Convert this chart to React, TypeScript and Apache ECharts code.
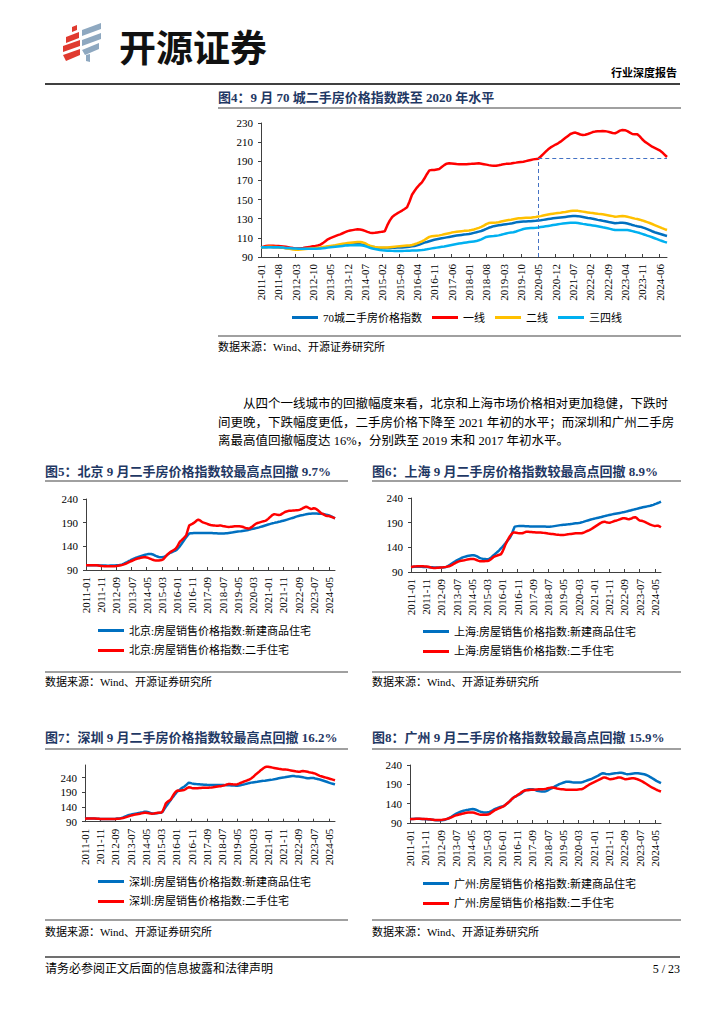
import { useEffect, useRef } from "react";
import * as echarts from "echarts";

const SERIF = "'Liberation Serif', 'Noto Sans CJK SC', serif";

// Monthly categories 2011-01 .. 2024-09
const MONTHS: string[] = [];
for (let y = 2011; y <= 2024; y++) {
  for (let m = 1; m <= 12; m++) {
    if (y === 2024 && m > 9) break;
    MONTHS.push(`${y}-${m < 10 ? "0" + m : m}`);
  }
}

// ---- Fig 4: 70-city second-hand price index (2011-01 = 100) ----
const city70 = [
  100, 100.2, 100.3, 100.4, 100.4, 100.3, 100.2, 100.1, 100, 99.7, 99.4, 99.1,
  98.9, 98.8, 98.7, 98.7, 98.6, 98.6, 98.6, 98.6, 98.7, 98.7, 98.9, 99.2,
  99.5, 99.9, 100.3, 100.7, 101, 101.3, 101.6, 101.9, 102.2, 102.5, 102.7, 102.9,
  103, 103.1, 103.2, 103.2, 103.2, 102.9, 102.3, 101.7, 101.1, 100.6, 100.2, 99.8,
  99.5, 99.4, 99.4, 99.4, 99.5, 99.6, 99.7, 99.8, 99.8, 100, 100.2, 100.5,
  100.8, 101.1, 101.5, 102.2, 103, 104, 105, 105.7, 106.5, 107.3, 108, 108.5,
  109, 109.5, 110, 110.5, 111, 111.5, 112, 112.4, 112.8, 113.1, 113.4, 113.7,
  114.1, 114.6, 115.2, 115.8, 116.5, 117.2, 118.2, 119.3, 120.5, 121.3, 122.2, 122.7,
  123.1, 123.5, 123.9, 124.3, 124.6, 124.9, 125.6, 126.2, 126.5, 126.8, 127, 127.2,
  127.3, 127.4, 127.6, 127.8, 128.1, 128.4, 128.8, 129.2, 129.6, 130, 130.4, 130.7,
  131, 131.3, 131.6, 131.9, 132.2, 132.5, 132.8, 132.9, 132.7, 132.3, 131.8, 131.3,
  130.8, 130.4, 130, 129.4, 128.8, 128.3, 127.8, 127.4, 126.8, 126.2, 125.7, 125.2,
  125.4, 125.7, 125.9, 125.6, 125, 124.3, 123.5, 122.8, 122.2, 121.7, 121, 120.1,
  119.1, 118, 116.9, 115.9, 115.1, 114.3, 113.5, 112.7, 112,
];
const tier1 = [
  100, 100.8, 101.5, 101.8, 101.8, 101.7, 101.6, 101.5, 101.3, 101, 100.6, 100.2,
  99.8, 99.3, 99, 99, 99.2, 99.5, 99.9, 100.3, 100.7, 101.2, 101.5, 102,
  103, 104.5, 106.5, 108.5, 109.8, 110.8, 111.8, 112.8, 113.7, 114.8, 115.9, 117,
  117.6, 118.1, 118.6, 119, 118.8, 118.2, 117.3, 116.3, 115.4, 115.2, 115.4, 115.7,
  116, 116.5, 116.8, 123, 128, 131.8, 133.8, 135.5, 137, 138.5, 140.2, 142,
  148, 155, 159, 162.5, 165.5, 168, 172, 176.5, 180.5, 180.8, 181, 181.5,
  182, 184, 186, 187.5, 188, 187.8, 187.5, 187.2, 187, 186.8, 187, 187,
  187.2, 187.3, 187.5, 187.7, 187.9, 187.5, 187, 186.5, 186, 185.6, 185.3, 185.4,
  185.8, 186.3, 187, 187.3, 187.5, 187.7, 188.3, 188.6, 189, 189.3, 189.6, 190.2,
  190.8, 191.4, 192, 192.3, 192.7, 195, 197.5, 200, 202.5, 204.5, 206, 207.5,
  208.8, 210.5, 212.5, 214.5, 216.5, 218.5, 219.5, 220, 219, 218, 217.5, 217.8,
  218.5, 219.5, 220.5, 221, 221.3, 221.5, 221.6, 221.5, 221, 220.3, 219.6, 219.2,
  220.5, 222, 222.7, 222.5, 221.5, 220, 218.5, 218.3, 218.3, 216, 213, 210.5,
  208.8, 207, 205.2, 204, 202.8, 201.5, 199.5, 197, 194.5,
];
const tier2 = [
  100, 100.3, 100.5, 100.6, 100.6, 100.5, 100.4, 100.2, 100, 99.6, 99.2, 98.8,
  98.3, 97.9, 97.7, 97.7, 97.8, 98, 98.3, 98.6, 98.9, 99.2, 99.4, 99.7,
  100, 100.4, 100.8, 101.2, 101.6, 101.9, 102.3, 102.8, 103.3, 103.8, 104.2, 104.6,
  104.9, 105.2, 105.4, 105.6, 105.7, 105.3, 104.4, 103, 101.9, 101, 100.4, 100.1,
  99.9, 99.8, 99.8, 99.9, 100.2, 100.5, 100.8, 101.1, 101.3, 101.5, 101.7, 101.9,
  102.1, 102.6, 103.3, 104.2, 105.2, 106.3, 107.8, 109.4, 111, 111.6, 112, 112.3,
  112.6, 113.1, 113.7, 114.3, 114.9, 115.5, 116, 116.4, 116.7, 117, 117.3, 117.5,
  117.8, 118.2, 118.8, 119.6, 120.5, 121.5, 122.8, 124.3, 125.5, 125.8, 125.9, 126.1,
  126.4, 127, 127.6, 128.1, 128.6, 129, 129.5, 130, 130.4, 130.6, 130.8, 130.9,
  131, 131.1, 131.5, 131.8, 132.2, 132.7, 133.3, 133.9, 134.4, 134.9, 135.3, 135.6,
  136, 136.3, 136.7, 137.1, 137.6, 138, 138.4, 138.4, 138.2, 137.8, 137.4, 137,
  136.6, 136.2, 135.9, 135.5, 135.1, 134.8, 134.6, 134.2, 133.7, 133.2, 132.7, 132.1,
  132.3, 132.6, 132.8, 132.5, 132, 131.4, 130.7, 130.1, 129.7, 129, 128.2, 127.3,
  126.4, 125.5, 124.5, 123.4, 122.3, 121.2, 120.1, 119.1, 118.2,
];
const tier34 = [
  100, 100.1, 100.2, 100.3, 100.3, 100.3, 100.2, 100.1, 100, 99.8, 99.5, 99.3,
  99.1, 98.9, 98.8, 98.7, 98.7, 98.6, 98.6, 98.6, 98.6, 98.7, 98.7, 98.8,
  99, 99.2, 99.5, 99.8, 100.1, 100.4, 100.7, 101, 101.3, 101.6, 101.9, 102.1,
  102.2, 102.3, 102.3, 102.3, 102.2, 102.1, 101.5, 100.6, 99.7, 98.9, 98.3, 97.8,
  97.3, 97, 96.8, 96.6, 96.5, 96.4, 96.3, 96.3, 96.3, 96.3, 96.4, 96.5,
  96.6, 96.7, 96.8, 96.9, 97.1, 97.3, 97.6, 98, 98.5, 99, 99.4, 99.8,
  100.2, 100.6, 101, 101.5, 102, 102.5, 103, 103.5, 104, 104.4, 104.8, 105.2,
  105.6, 106, 106.3, 106.6, 107.5, 108.5, 109.8, 111, 111.5, 111.8, 112, 112.3,
  112.6, 113.2, 113.9, 114.6, 115.2, 115.5, 115.8, 116.6, 117.5, 118.4, 119.3, 119.7,
  120, 120.2, 120.4, 120.6, 120.9, 121.3, 121.7, 122.1, 122.5, 122.9, 123.4, 123.8,
  124.2, 124.6, 124.9, 125.2, 125.5, 125.7, 125.9, 125.8, 125.5, 125.1, 124.6, 124.2,
  123.8, 123.4, 123, 122.6, 122.1, 121.6, 121, 120.5, 120, 119.4, 118.8, 118.3,
  118.2, 118.2, 118.3, 118.2, 118.2, 117.7, 117, 116.3, 115.7, 115, 114.2, 113.3,
  112.3, 111.5, 110.6, 109.6, 108.6, 107.6, 106.7, 105.8, 105,
];
const tier1RefLevel = 192.7; // level of tier-1 index in 2020-05
const tier1RefMonth = "2020-05";

// ---- Fig 5: Beijing ----
const bjNew = [
  100, 100.1, 100.2, 100.2, 100.2, 100.1, 100, 99.9, 99.8, 99.7, 99.6, 99.5,
  99.4, 99.3, 99.2, 99.2, 99.3, 99.4, 99.5, 99.6, 99.8, 100, 100.4, 101,
  102, 103.5, 105.2, 106.8, 108.5, 110, 111.7, 113.2, 114.6, 116, 117, 118.2,
  119.3, 120.4, 121.4, 122.3, 123, 123.6, 124, 123.8, 122.8, 121.2, 119.8, 118.5,
  117.5, 117, 117, 117.3, 118.4, 120.5, 123, 125.5, 127, 128.4, 129.7, 131,
  133.5, 137, 141, 145.5, 150, 155, 159, 163.5, 167, 167.5, 167.8, 168,
  168, 168, 168.2, 168.3, 168.4, 168.3, 168.1, 168, 168, 168, 168, 168,
  167.8, 167.6, 167.4, 167.2, 167, 167, 167, 167.2, 167.5, 167.8, 168.2, 168.6,
  169, 169.6, 170.2, 170.7, 171.2, 171.6, 172, 172.5, 173, 173.5, 174, 174.7,
  175.5, 176.3, 177, 177.8, 178.5, 179.2, 180, 181, 182, 183, 184, 185,
  186, 187, 188, 188.8, 189.5, 190.3, 191, 191.8, 192.6, 193.4, 194.2, 195,
  196, 197, 198, 199, 200, 201, 202.2, 203.3, 204.2, 205, 205.7, 206.3,
  207, 207.6, 208.2, 208.7, 209, 209.2, 209.3, 209.3, 209.2, 209.1, 209, 208.7,
  208.2, 207.6, 207, 206.2, 205.2, 204, 202.6, 200.9, 199,
];
const bjUsed = [
  100, 100, 100, 100, 100, 100, 100, 99.8, 99.5, 99, 98.5, 98.2,
  98, 97.8, 97.8, 97.8, 97.9, 98, 98, 98, 98.3, 98.8, 99.5, 100,
  100.8, 101.8, 103, 104.5, 106, 107.5, 109, 110.5, 112, 113.2, 114.2, 115,
  115.8, 116.4, 117, 117, 116.5, 115.5, 114.2, 112.8, 111.5, 110.6, 110.2, 110,
  110.2, 110.6, 111, 113, 116.5, 120.5, 124, 126.5, 128.8, 130.8, 132.8, 135,
  139, 145, 150.5, 153, 156, 159.5, 163, 174, 184.5, 186, 187.5, 189.5,
  192, 195, 196.6, 195, 192.5, 190.5, 189.5, 188.5, 187.3, 186.2, 185.2, 184.3,
  184, 183.8, 183.7, 183.7, 183.8, 183.8, 183, 182.4, 181.8, 181.3, 181, 181.2,
  181.5, 182, 182.5, 182.6, 182.5, 182.4, 182, 181.3, 180.2, 179, 178, 177.6,
  178.5, 180.5, 183, 185.5, 188, 189.2, 190.2, 191.2, 192.2, 193, 193.8, 195.5,
  198, 201, 204, 206.5, 208, 207.5, 206.5, 206, 206.5, 208.5, 210.5, 212.5,
  213.5, 214.5, 215, 215.3, 215.5, 215.8, 216, 216.3, 216.5, 217.5, 219, 221,
  222.5, 223.5, 222.5, 220.5, 219, 219.5, 220.5, 220, 218, 215.5, 212.5, 209.5,
  208.5, 206.5, 204.5, 204, 204, 203, 201.8, 200.5, 199,
];

// ---- Fig 6: Shanghai ----
const shNew = [
  100, 100.3, 100.5, 100.6, 100.6, 100.6, 100.5, 100.4, 100.3, 100.2, 100.1, 100,
  99.8, 99.6, 99.4, 99.2, 99.1, 99, 99, 99, 99.1, 99.3, 99.6, 100.2,
  101.5, 103.6, 105.5, 107.5, 109.5, 111.5, 113.8, 115.3, 116.8, 118.3, 119.5, 120.7,
  121.5, 122.3, 123, 123.5, 123.9, 124, 123.3, 122, 120.5, 118.6, 117.6, 117,
  116.5, 116.2, 116, 116.3, 118, 120.5, 123.5, 126, 128.8, 131.5, 134.5, 138,
  141, 144.5, 148.5, 152.5, 156, 160, 166, 174, 182, 182.5, 183, 183.4,
  183.4, 183.3, 183.1, 182.9, 182.7, 182.5, 182.3, 182.2, 182.1, 182, 182, 182,
  182, 182, 182, 182, 182, 181.9, 181.8, 181.8, 182, 182.5, 183, 183.5,
  184, 184.5, 185, 185.5, 185.8, 186, 186.3, 186.6, 187, 187.4, 187.8, 188.3,
  188.7, 189, 189.4, 190, 190.8, 191.7, 192.7, 193.6, 194.5, 195.4, 196.3, 197.2,
  198, 198.7, 199.4, 200.1, 200.8, 201.6, 202.4, 203.2, 204, 204.8, 205.6, 206.2,
  206.8, 207.4, 208, 208.6, 209.2, 209.8, 210.4, 211, 211.6, 212.4, 213.2, 214,
  214.8, 215.6, 216.4, 217.2, 218, 218.8, 219.6, 220.4, 221.2, 221.8, 222.4, 223,
  223.6, 224.3, 225.2, 226.1, 227.5, 228.6, 229.8, 231, 232.5,
];
const shUsed = [
  100, 100.6, 101.1, 101.4, 101.6, 101.7, 101.7, 101.6, 101.5, 101.3, 101.1, 100.6,
  100, 99.2, 98.5, 98, 98.2, 98.5, 98.8, 99, 99.2, 99.5, 99.9, 100.4,
  101, 101.6, 103, 104.6, 106.3, 108, 109.8, 111, 112, 112.8, 113.5, 114,
  114.6, 115.2, 115.7, 116.2, 116.6, 116.5, 115.6, 114.3, 113, 112, 111.8, 111.9,
  112, 112.2, 112.5, 113, 115, 117.5, 120, 121.5, 122.8, 124, 125, 126,
  131, 138, 146, 152, 158, 163, 167, 170, 170, 169.5, 169, 168.7,
  168.4, 168.5, 169.6, 171, 171.8, 171.6, 171.3, 171, 170.7, 170.5, 170.3, 170.1,
  170, 169.9, 169.7, 169.3, 168.9, 168.5, 168, 167.6, 167.2, 166.8, 166.4, 166,
  165.7, 165.4, 165.2, 165, 165.1, 165.4, 165.8, 166.3, 166.8, 167.2, 167.6, 168,
  168.4, 168.4, 168.4, 168.4, 168.5, 169.5, 170.8, 172.2, 173.6, 175, 176.6, 178.5,
  180.5, 182.5, 184.5, 186.5, 188.5, 190.3, 191.5, 192, 191, 190.2, 190, 190.5,
  191.5, 192.8, 193.8, 194.5, 195.6, 196.8, 198, 198.8, 199, 198.5, 197.5, 197,
  197.8, 199, 200.5, 201, 199.5, 196.5, 194.5, 194, 193.3, 192, 190.5, 189,
  187.6, 186.2, 185, 184, 183.4, 183.6, 184, 182.5, 180.7,
];

// ---- Fig 7: Shenzhen ----
const szNew = [
  100, 100.5, 101, 101, 101, 100.8, 100.6, 100.3, 100, 99.7, 99.4, 99.2,
  99, 98.9, 98.9, 98.9, 99, 99.1, 99.3, 99.6, 100, 100.5, 101, 101.8,
  103, 104.8, 106.8, 109, 111, 112.7, 114, 115.3, 116.5, 117.5, 118.4, 119.3,
  120.3, 121.5, 122.7, 124, 124, 123, 121.5, 120, 118.8, 118, 118.3, 119,
  119.7, 120.2, 120.7, 124, 133, 141, 148, 155, 162, 169.5, 176, 183,
  189.5, 194.5, 198, 202.5, 206, 209, 213, 218, 222.5, 222, 220.5, 219.5,
  218.5, 218, 217.6, 217.2, 216.8, 216.4, 216, 215.7, 215.4, 215.2, 215, 215,
  215, 215, 215, 215, 215, 215, 215, 214.8, 214.5, 214.2, 214, 213.7,
  213.4, 213.1, 212.9, 212.7, 212.7, 213.3, 214.2, 215.3, 216.5, 217.8, 219.2, 220.6,
  222, 223, 223.8, 224.6, 225.3, 226, 226.8, 227.6, 228.4, 229, 229.7, 230.5,
  231.2, 231.8, 232.4, 233.2, 234.2, 235.3, 236.5, 237.7, 238.6, 239.4, 240.2, 241,
  242, 243, 244, 245, 245.6, 245.3, 244.6, 244, 243.5, 243, 242, 241,
  240, 239, 238, 237.7, 238.6, 239.2, 238.5, 237.2, 236, 234.8, 233.5, 232,
  230.4, 228.6, 226.8, 225, 223.2, 221.4, 219.8, 218.4, 217,
];
const szUsed = [
  100, 100.5, 101, 101.2, 101.2, 101, 100.8, 100.5, 100.2, 99.8, 99.4, 99.1,
  98.9, 98.8, 98.8, 98.8, 98.9, 99, 99.2, 99.4, 99.6, 99.8, 100, 100.6,
  101.6, 102.8, 104.2, 105.7, 107.3, 109, 110.6, 112, 113.2, 114.3, 115.3, 116.2,
  117.2, 118.3, 119.4, 120.4, 120.7, 120, 118.7, 117.6, 117, 117.5, 118.5, 119.5,
  120.2, 120.5, 121, 126, 138, 152.5, 157, 161, 164, 172, 181, 189,
  194, 196.5, 195.7, 196, 197, 198, 201, 204.5, 207, 206.5, 205, 204,
  203.6, 203.8, 204.2, 204.6, 205, 205.3, 205.5, 205.7, 205.8, 205.9, 206, 206.5,
  207.2, 208, 208.8, 209.6, 210.4, 211, 212, 213, 214.5, 216.5, 218, 218,
  217.6, 217.2, 217, 217, 217.6, 219.5, 221.8, 224, 226, 228, 230, 232,
  234, 237, 241, 245.5, 251, 255, 259, 264, 268, 272, 275.5, 277,
  277, 276, 275, 274, 273, 272, 271, 270, 269.3, 268.5, 268, 267.5,
  267.3, 266.5, 265.5, 264.5, 263.5, 262.5, 261.5, 260.5, 260, 260.3, 261.5, 262.5,
  262, 261, 259.8, 258.6, 257.5, 256.5, 255.2, 253.5, 251, 248.5, 246, 244.5,
  243, 241.5, 240, 238.5, 237, 235.5, 234, 232.5, 231,
];

// ---- Fig 8: Guangzhou ----
const gzNew = [
  100, 100.3, 100.6, 100.8, 100.9, 100.9, 100.8, 100.6, 100.4, 100.2, 100, 99.7,
  99.3, 98.9, 98.5, 98.1, 97.7, 97.4, 97.2, 97, 97, 97.2, 97.8, 98.6,
  100, 102, 104, 106, 108.5, 111, 113.5, 115.7, 117.5, 119, 120.4, 121.6,
  122.6, 123.5, 124.2, 125, 125.6, 126, 125.6, 124.3, 122.6, 120.8, 119.3, 118.2,
  117.4, 117.2, 117.2, 117.5, 118.8, 120.8, 123, 125.2, 127, 128.6, 130, 131.5,
  132.5, 133.5, 136, 139, 142, 145.7, 149.5, 153.5, 157, 158.6, 161, 163,
  164.6, 167.5, 171, 174, 175.7, 176.5, 177, 177.4, 177.4, 176.5, 175, 173.5,
  172.5, 171.8, 171.4, 171.4, 171.4, 172.5, 174.5, 176.8, 179, 180.5, 183, 185.5,
  187.5, 189.5, 191, 192.5, 194, 195.5, 196.5, 197, 196.7, 196, 195.3, 194.8,
  194.6, 194.5, 194.5, 194.6, 195, 196, 197.5, 199, 200.5, 201.8, 203, 204.8,
  206.8, 208.8, 210.8, 212.5, 215, 217.5, 218.6, 218, 217, 216.4, 216, 216.6,
  217.3, 218, 218.6, 219, 219.4, 219.8, 220, 219.4, 218.2, 217, 216, 216.4,
  217, 217.6, 218, 218.4, 218.6, 218.6, 218.2, 217.6, 216.8, 216, 214.8, 213,
  211, 208.8, 206.5, 204, 201.5, 199, 197, 195, 193,
];
const gzUsed = [
  100, 100.2, 100.4, 100.6, 100.7, 100.8, 100.8, 100.7, 100.6, 100.6, 100.5, 100.3,
  100, 99.5, 99, 98.5, 98, 97.7, 97.5, 97.5, 97.7, 98.2, 98.9, 99.7,
  100.6, 101.6, 103, 104.8, 106.6, 108.3, 109.6, 110.8, 111.8, 112.8, 113.8, 114.8,
  115.7, 116.4, 117, 117.3, 117.4, 117.2, 116.5, 115, 113.5, 112.3, 111.6, 111.4,
  111.4, 111.4, 111.4, 111.8, 113.5, 116.3, 119.3, 122, 124.3, 126, 127.8, 129.5,
  131, 132.8, 135.5, 139, 142.5, 145.7, 149.5, 153.5, 157, 158.6, 161.5, 164.5,
  167, 170, 172.3, 174, 174.5, 175, 175.4, 175.7, 175.9, 176.2, 176.5, 176.9,
  177.2, 177.4, 177.4, 177.6, 178, 178.8, 179.8, 180.8, 181.5, 181.7, 181.2, 180.3,
  179.3, 178.4, 177.8, 177.4, 177, 176.6, 176.2, 176, 175.8, 175.7, 175.7, 175.7,
  175.9, 176.2, 176.6, 177, 177.4, 178.5, 181, 184, 186.5, 189, 191, 193,
  195, 197, 199, 200.7, 202.8, 205, 207, 208, 207, 205.5, 204, 203,
  203.5, 204.5, 205.5, 206.5, 207.5, 208, 207, 205.5, 204, 203, 203.5, 204.5,
  205.3, 205.7, 205.5, 205, 204, 202.5, 201, 199, 197, 194.5, 192, 189.5,
  187, 184.3, 182, 180, 178, 176, 174.3, 172.8, 171.4,
];

const BLUE = "#0070C0";
const RED = "#FF0000";
const YELLOW = "#FFC000";
const SKY = "#00B0F0";
const TITLE = "#1F3864";
const AXIS = "#404040";

function xAxis(gridIndex: number, interval: number) {
  return {
    type: "category",
    gridIndex,
    data: MONTHS,
    boundaryGap: false,
    axisLine: { lineStyle: { color: AXIS, width: 1 } },
    axisTick: { inside: true, length: 3, interval, lineStyle: { color: AXIS } },
    axisLabel: { interval, rotate: 90, fontSize: 11, fontFamily: SERIF, color: "#000", margin: 7 },
    splitLine: { show: false },
  };
}
function yAxis(gridIndex: number, min: number, max: number, interval: number, hideMax = false) {
  return {
    type: "value",
    gridIndex,
    min,
    max,
    interval,
    axisLine: { show: true, lineStyle: { color: AXIS, width: 1 } },
    axisTick: { show: true, length: 3, lineStyle: { color: AXIS } },
    axisLabel: { fontSize: 11, fontFamily: SERIF, color: "#000", margin: 8, showMaxLabel: !hideMax },
    splitLine: { show: false },
  };
}
function line(name: string, data: number[], color: string, idx: number, extra: any = {}) {
  return {
    type: "line",
    name,
    data,
    xAxisIndex: idx,
    yAxisIndex: idx,
    symbol: "none",
    showSymbol: false,
    lineStyle: { color, width: 2.5 },
    itemStyle: { color },
    emphasis: { disabled: true },
    ...extra,
  };
}
function legend(left: number, top: number, data: string[], orient: string) {
  return {
    left,
    top,
    orient,
    padding: 0,
    itemWidth: 26,
    itemHeight: 3,
    itemGap: orient === "vertical" ? 9 : 10,
    icon: "rect",
    selectedMode: false,
    textStyle: { fontSize: 11, fontFamily: SERIF, color: "#000" },
    data,
  };
}
function text(x: number, y: number, t: string, font: string, fill = "#000", align = "left") {
  return {
    type: "text",
    x,
    y,
    silent: true,
    style: { text: t, font, fill, textAlign: align, textVerticalAlign: "middle", align, verticalAlign: "middle" },
  };
}
function rule(x1: number, y1: number, x2: number, y2: number, stroke = "#808080", w = 1.5) {
  return { type: "line", silent: true, shape: { x1, y1, x2, y2 }, style: { stroke, lineWidth: w } };
}
function poly(points: number[][], fill: string) {
  return { type: "polygon", silent: true, shape: { points }, style: { fill } };
}

const TFONT = `bold 13px ${SERIF}`;
const SFONT = `11px ${SERIF}`;
const PFONT = `12.5px ${SERIF}`;

const names5 = ["北京:房屋销售价格指数:新建商品住宅", "北京:房屋销售价格指数:二手住宅"];
const names6 = ["上海:房屋销售价格指数:新建商品住宅", "上海:房屋销售价格指数:二手住宅"];
const names7 = ["深圳:房屋销售价格指数:新建商品住宅", "深圳:房屋销售价格指数:二手住宅"];
const names8 = ["广州:房屋销售价格指数:新建商品住宅", "广州:房屋销售价格指数:二手住宅"];
const names4 = ["70城二手房价格指数", "一线", "二线", "三四线"];

const option: any = {
  animation: false,
  backgroundColor: "#fff",
  grid: [
    { left: 261, top: 123, width: 406, height: 134 },
    { left: 86, top: 499, width: 249, height: 71 },
    { left: 411, top: 498, width: 250, height: 74 },
    { left: 85, top: 765, width: 250, height: 56.7 },
    { left: 410, top: 765, width: 251, height: 58 },
  ],
  xAxis: [xAxis(0, 6), xAxis(1, 9), xAxis(2, 9), xAxis(3, 9), xAxis(4, 9)],
  yAxis: [
    yAxis(0, 90, 230, 20),
    yAxis(1, 90, 240, 50),
    yAxis(2, 90, 240, 50),
    yAxis(3, 90, 283, 50, true),
    yAxis(4, 90, 240, 50),
  ],
  legend: [
    legend(292, 312, names4, "horizontal"),
    legend(98, 625, names5, "vertical"),
    legend(423, 626, names6, "vertical"),
    legend(98, 876, names7, "vertical"),
    legend(423, 878, names8, "vertical"),
  ],
  series: [
    line(names4[0], city70, BLUE, 0),
    line(names4[1], tier1, RED, 0, {
      markLine: {
        silent: true,
        symbol: "none",
        label: { show: false },
        lineStyle: { color: "#4472C4", width: 1, type: [4, 3] },
        data: [
          [{ coord: [tier1RefMonth, 90] }, { coord: [tier1RefMonth, tier1RefLevel] }],
          [{ coord: [tier1RefMonth, tier1RefLevel] }, { coord: [MONTHS[MONTHS.length - 1], tier1RefLevel] }],
        ],
      },
    }),
    line(names4[2], tier2, YELLOW, 0),
    line(names4[3], tier34, SKY, 0),
    line(names5[0], bjNew, BLUE, 1),
    line(names5[1], bjUsed, RED, 1),
    line(names6[0], shNew, BLUE, 2),
    line(names6[1], shUsed, RED, 2),
    line(names7[0], szNew, BLUE, 3),
    line(names7[1], szUsed, RED, 3),
    line(names8[0], gzNew, BLUE, 4),
    line(names8[1], gzUsed, RED, 4),
  ],
  graphic: {
    elements: [
      // logo
      poly([[72, 27], [77, 25], [77, 30], [72, 32]], "#E03A2F"),
      poly([[66, 37], [79, 32], [79, 38], [66, 43]], "#E03A2F"),
      poly([[63, 46], [80, 40], [80, 46], [63, 52]], "#E03A2F"),
      poly([[63, 55], [80, 49], [80, 55], [66, 61]], "#E03A2F"),
      poly([[82, 30], [101, 23], [101, 29], [82, 36]], "#8EA8C0"),
      poly([[82, 40], [101, 33], [101, 39], [82, 46]], "#8EA8C0"),
      poly([[82, 50], [99, 43], [99, 49], [85, 55]], "#8EA8C0"),
      poly([[86, 55], [90, 54], [90, 62], [86, 61]], "#8EA8C0"),
      text(119, 46, "开源证券", `bold 37px 'Noto Sans CJK SC', sans-serif`, "#111"),
      text(677, 73, "行业深度报告", `bold 11px ${SERIF}`, "#000", "right"),
      rule(45, 84, 680, 84, "#000", 1.5),
      // Fig 4
      text(218, 97, "图4：9 月 70 城二手房价格指数跌至 2020 年水平", TFONT, TITLE),
      rule(218, 108, 681, 108),
      rule(218, 336, 681, 336),
      text(218, 347, "数据来源：Wind、开源证券研究所", SFONT),
      // paragraph
      text(243, 404, "从四个一线城市的回撤幅度来看，北京和上海市场价格相对更加稳健，下跌时", PFONT),
      text(218, 423, "间更晚，下跌幅度更低，二手房价格下降至 2021 年初的水平；而深圳和广州二手房", PFONT),
      text(218, 441, "离最高值回撤幅度达 16%，分别跌至 2019 末和 2017 年初水平。", PFONT),
      // Fig 5
      text(45, 471, "图5：北京 9 月二手房价格指数较最高点回撤 9.7%", TFONT, TITLE),
      rule(45, 481, 348, 481),
      rule(45, 672, 348, 672),
      text(45, 682, "数据来源：Wind、开源证券研究所", SFONT),
      // Fig 6
      text(372, 471, "图6：上海 9 月二手房价格指数较最高点回撤 8.9%", TFONT, TITLE),
      rule(372, 481, 681, 481),
      rule(372, 672, 681, 672),
      text(372, 682, "数据来源：Wind、开源证券研究所", SFONT),
      // Fig 7
      text(45, 737, "图7：深圳 9 月二手房价格指数较最高点回撤 16.2%", TFONT, TITLE),
      rule(45, 749, 348, 749),
      rule(45, 920, 348, 920),
      text(45, 932, "数据来源：Wind、开源证券研究所", SFONT),
      // Fig 8
      text(372, 737, "图8：广州 9 月二手房价格指数较最高点回撤 15.9%", TFONT, TITLE),
      rule(372, 749, 681, 749),
      rule(372, 920, 681, 920),
      text(372, 932, "数据来源：Wind、开源证券研究所", SFONT),
      // footer
      rule(45, 957, 680, 957, "#404040", 1.5),
      text(45, 969, "请务必参阅正文后面的信息披露和法律声明", `12px ${SERIF}`),
      text(680, 969, "5 / 23", `12px ${SERIF}`, "#000", "right"),
    ],
  },
};

export default function App() {
  const ref = useRef<HTMLDivElement>(null);
  useEffect(() => {
    if (!ref.current) return;
    const chart = echarts.init(ref.current, null, { renderer: "svg" });
    chart.setOption(option);
    return () => chart.dispose();
  }, []);
  return (
    <div
      ref={ref}
      style={{ position: "absolute", left: 0, top: 0, width: 724, height: 1024, background: "#fff" }}
    />
  );
}
